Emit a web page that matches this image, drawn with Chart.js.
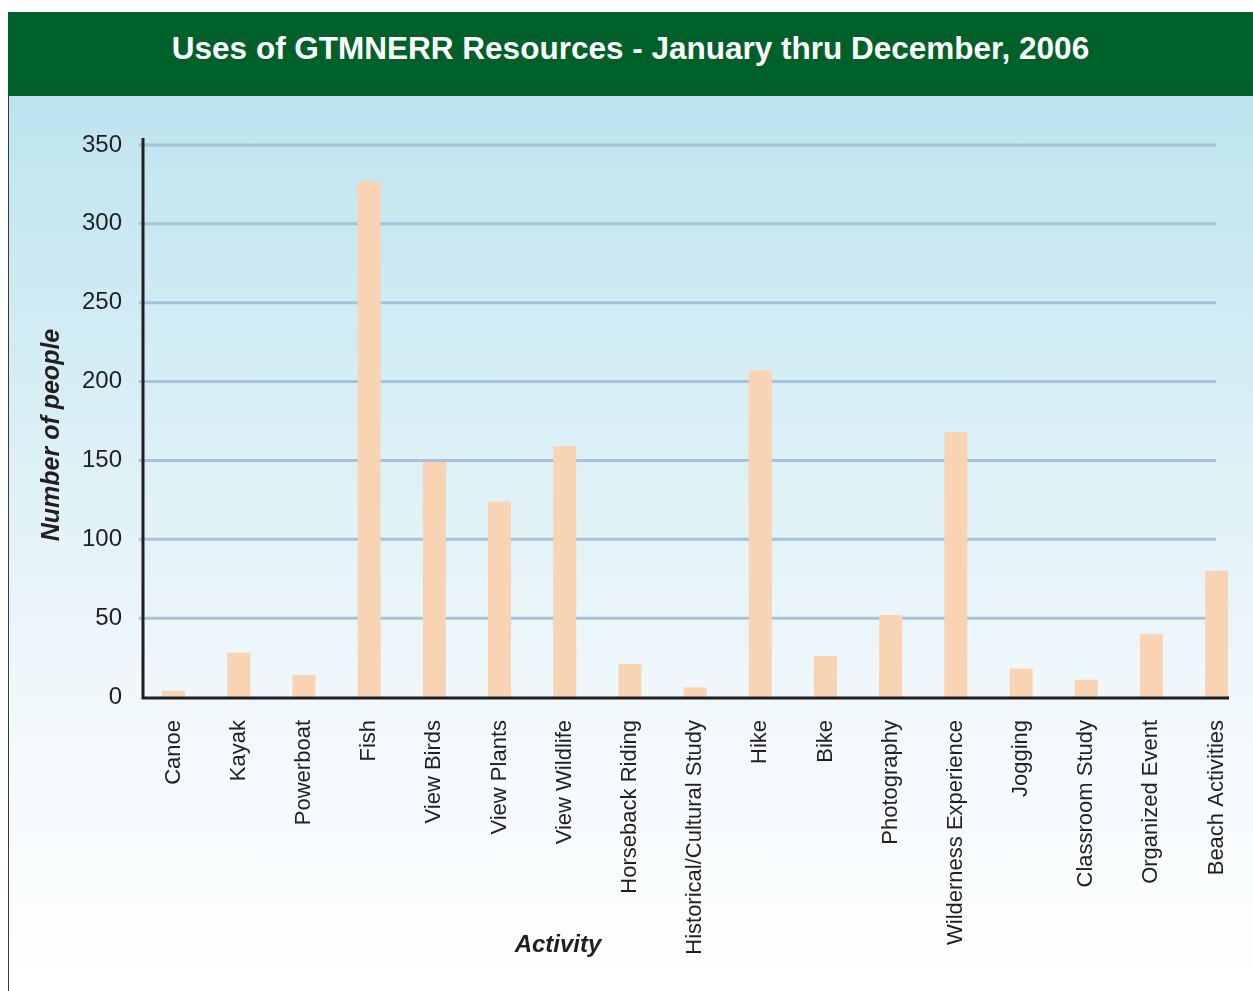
<!DOCTYPE html>
<html>
<head>
<meta charset="utf-8">
<script src="https://cdn.jsdelivr.net/npm/chart.js@4"></script>
<style>
    body { margin: 0; width: 1253px; height: 991px; background: #ffffff; overflow: hidden; position: relative; font-family: "Liberation Sans", Arial, sans-serif; }
    #frame { position: absolute; left: 8px; top: 12px; width: 1245px; height: 979px; border-left: 1px solid #3a3a3a; }
    #header { position: absolute; left: 8px; top: 12px; width: 1245px; height: 84px; background: #00602a; color: #ffffff; font-weight: bold; font-size: 31.5px; text-align: center; line-height: 72px; }
    #panel { position: absolute; left: 9px; top: 96px; width: 1244px; height: 895px; background: linear-gradient(to bottom, #bde4ef 0%, #dcf0f6 40%, #f1f8fb 68%, #ffffff 100%); }
    #chart { position: absolute; left: 8px; top: 96px; }
</style>
</head>
<body>
<div id="frame"></div>
<div id="header">Uses of GTMNERR Resources - January thru December, 2006</div>
<div id="panel"></div>
<canvas id="chart" width="1258" height="895"></canvas>
<script>
let activities = [
    "Canoe",
    "Kayak",
    "Powerboat",
    "Fish",
    "View Birds",
    "View Plants",
    "View Wildlife",
    "Horseback Riding",
    "Historical/Cultural Study",
    "Hike",
    "Bike",
    "Photography",
    "Wilderness Experience",
    "Jogging",
    "Classroom Study",
    "Organized Event",
    "Beach Activities"
];

let people = [4, 28, 14, 327, 149, 124, 159, 21, 6, 207, 26, 52, 168, 18, 11, 40, 80];

let yTicks = [0, 50, 100, 150, 200, 250, 300, 350];

let yTitle = "Number of people";
let xTitle = "Activity";

// grid lines under the bars, axis lines and axis titles on top
let axesPlugin = {
    id: "axesPlugin",
    beforeDatasetsDraw: function(chart)
    {
        let ctx = chart.ctx;
        let y = chart.scales.y;
        ctx.save();
        ctx.strokeStyle = "#a6c2da";
        ctx.lineWidth = 3;
        for(let i = 1; i < yTicks.length; i++)
        {
            let py = y.getPixelForValue(yTicks[i]);
            ctx.beginPath();
            ctx.moveTo(chart.chartArea.left - 2, py);
            ctx.lineTo(1208, py);
            ctx.stroke();
        }
        ctx.restore();
    },
    afterDatasetsDraw: function(chart)
    {
        let ctx = chart.ctx;
        let y = chart.scales.y;
        let left = chart.chartArea.left + 2;
        let bottom = y.getPixelForValue(0) + 1;
        ctx.save();
        ctx.strokeStyle = "#231f20";
        ctx.lineWidth = 3;
        ctx.beginPath();
        ctx.moveTo(left, y.getPixelForValue(350) - 7);
        ctx.lineTo(left, bottom);
        ctx.lineTo(1221, bottom);
        ctx.stroke();

        ctx.fillStyle = "#231f20";
        ctx.textAlign = "center";
        ctx.textBaseline = "middle";
        ctx.font = "italic bold 25px 'Liberation Sans', Arial, sans-serif";
        ctx.translate(44, 339);
        ctx.rotate(-Math.PI / 2);
        ctx.fillText(yTitle, 0, 0);
        ctx.restore();

        ctx.save();
        ctx.fillStyle = "#231f20";
        ctx.textAlign = "center";
        ctx.textBaseline = "middle";
        ctx.font = "italic bold 24px 'Liberation Sans', Arial, sans-serif";
        ctx.fillText(xTitle, 550, 849);
        ctx.restore();
    }
};

let myChart = document.getElementById("chart").getContext("2d");
let display = new Chart(myChart,
{
    type: "bar",
    data:
    {
        labels: activities,
        datasets: [
            {
                label: yTitle,
                data: people,
                backgroundColor: "#f8d3b4",
                borderWidth: 0,
                categoryPercentage: 1,
                barPercentage: 0.353
            }
        ]
    },
    options:
    {
        responsive: false,
        animation: false,
        layout: { padding: { top: 49, right: 0, left: 0, bottom: 0 } },
        plugins:
        {
            legend: { display: false },
            tooltip: { enabled: false }
        },
        scales:
        {
            x:
            {
                grid: { display: false, drawTicks: false },
                border: { display: false },
                ticks:
                {
                    autoSkip: false,
                    minRotation: 90,
                    maxRotation: 90,
                    padding: 23,
                    color: "#231f20",
                    font: { family: "'Liberation Sans', Arial, sans-serif", size: 22 }
                },
                afterFit: function(scale) { scale.height = 294; }
            },
            y:
            {
                min: 0,
                max: 350,
                grid: { display: false, drawTicks: false },
                border: { display: false },
                afterBuildTicks: function(scale)
                {
                    scale.ticks = yTicks.map(function(v) { return { value: v }; });
                },
                ticks:
                {
                    padding: 19,
                    color: "#231f20",
                    font: { family: "'Liberation Sans', Arial, sans-serif", size: 24 }
                },
                afterFit: function(scale) { scale.width = 133; }
            }
        }
    },
    plugins: [axesPlugin]
});
</script>
</body>
</html>
